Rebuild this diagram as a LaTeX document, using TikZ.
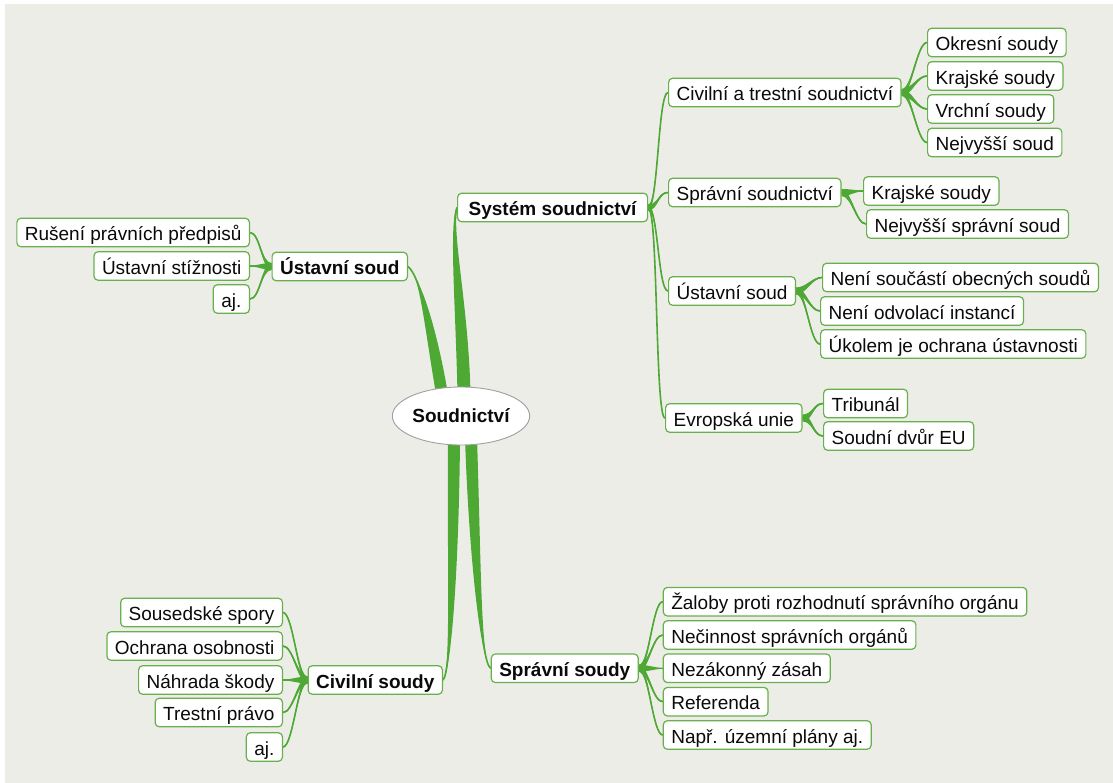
\documentclass[tikz,border=0pt]{standalone}
\usepackage{fontspec}
\setmainfont{Liberation Sans}
\usetikzlibrary{calc,shapes.geometric}

\definecolor{bggray}{RGB}{237,237,232}
\definecolor{boxgreen}{RGB}{104,176,78}
\definecolor{linkgreen}{RGB}{78,168,52}
\definecolor{inkcol}{RGB}{10,10,10}

\pgfdeclarelayer{bg}
\pgfsetlayers{bg,main}

\tikzset{
  leaf/.style={draw=boxgreen, line width=1.2pt, fill=white, rounded corners=4pt,
    inner xsep=8pt, inner ysep=0pt, text height=22.5pt, text depth=6pt,
    text=inkcol, font=\fontsize{19}{22}\selectfont},
  hub/.style={leaf, font=\fontsize{19}{22}\selectfont\bfseries},
  rootnode/.style={ellipse, draw=gray!75, line width=0.9pt, fill=white,
    minimum width=120pt, minimum height=58pt, inner sep=0pt,
    text=inkcol, font=\fontsize{19}{22}\selectfont\bfseries},
  branch/.style={fill=linkgreen},
  branchline/.style={draw=linkgreen, line width=1.6pt}
}

% tapered connector: #1 start, #2 control offset from start, #3 end,
% #4 control offset from end, #5 half-width at start, #6 half-width at end
\newcommand\taper[6]{%
  \begin{pgfonlayer}{bg}
  \fill[branch] ($(#1)+(#5)$) .. controls ($(#1)+(#2)+(#5)$) and ($(#3)+(#4)+(#6)$) .. ($(#3)+(#6)$)
     -- ($(#3)-(#6)$) .. controls ($(#3)+(#4)-(#6)$) and ($(#1)+(#2)-(#5)$) .. ($(#1)-(#5)$) -- cycle;
  \draw[branchline] (#1) .. controls ($(#1)+(#2)$) and ($(#3)+(#4)$) .. (#3);
  \end{pgfonlayer}}
% connector from a parent's right side to a child's left side
\newcommand\rlink[3]{\taper{#1.east}{10,0}{#2.west}{-10,0}{0,#3}{0,0.6}}
% connector from a parent's left side to a child's right side
\newcommand\llink[3]{\taper{#1.west}{-10,0}{#2.east}{10,0}{0,#3}{0,0.6}}

\begin{document}
\begin{tikzpicture}[x=1pt,y=-1pt]
\useasboundingbox (0,0) rectangle (1113,783);
\begin{pgfonlayer}{bg}
  \fill[white] (0,0) rectangle (1113,783);
  \fill[bggray] (5,4) rectangle (1113,783);
\end{pgfonlayer}

% centre
\node[rootnode] (root) at (461,416) {Soudnictví};

% main branches
\node[hub, anchor=west, minimum width=190pt] (sys) at (457,207.5) {Systém soudnictví};
\node[hub, anchor=east] (ust) at (408,266.5) {Ústavní soud};
\node[hub, anchor=east] (civ) at (443,680) {Civilní soudy};
\node[hub, anchor=west] (spr) at (490.7,668.3) {Správní soudy};

% court system
\node[leaf, anchor=west] (cts) at (668,92.5) {Civilní a trestní soudnictví};
\node[leaf, anchor=west] (sps) at (668,192.5) {Správní soudnictví};
\node[leaf, anchor=west] (us2) at (668,291) {Ústavní soud};
\node[leaf, anchor=west] (eu) at (665,418) {Evropská unie};

\node[leaf, anchor=west] (ok) at (927,42.5) {Okresní soudy};
\node[leaf, anchor=west] (kr) at (927,76) {Krajské soudy};
\node[leaf, anchor=west] (vr) at (927,109) {Vrchní soudy};
\node[leaf, anchor=west] (nsd) at (927,142.5) {Nejvyšší soud};

\node[leaf, anchor=west] (kr2) at (863,191) {Krajské soudy\hspace{4pt}};
\node[leaf, anchor=west] (nss) at (866,224) {Nejvyšší správní soud};

\node[leaf, anchor=west] (ua) at (822,277.5) {Není součástí obecných soudů};
\node[leaf, anchor=west] (ub) at (820,311) {Není odvolací instancí};
\node[leaf, anchor=west] (uc) at (820,344) {Úkolem je ochrana ústavnosti};

\node[leaf, anchor=west] (tri) at (823,403.5) {Tribunál};
\node[leaf, anchor=west] (sdv) at (823,436) {Soudní dvůr EU};

% constitutional court
\node[leaf, anchor=east] (la) at (250,232.5) {Rušení právních předpisů};
\node[leaf, anchor=east] (lb) at (250,266) {Ústavní stížnosti};
\node[leaf, anchor=east] (lc) at (250,299) {aj.};

% civil courts
\node[leaf, anchor=east] (ca) at (283,612.5) {Sousedské spory};
\node[leaf, anchor=east] (cb) at (283,646) {Ochrana osobnosti};
\node[leaf, anchor=east] (cc) at (283,680) {Náhrada škody};
\node[leaf, anchor=east] (cd) at (283,712.5) {Trestní právo};
\node[leaf, anchor=east] (ce) at (283,747) {aj.};

% administrative courts
\node[leaf, anchor=west] (sa) at (662.7,601.7) {Žaloby proti rozhodnutí správního orgánu};
\node[leaf, anchor=west] (sb) at (662.7,635) {Nečinnost správních orgánů};
\node[leaf, anchor=west] (sc) at (662.7,668.3) {Nezákonný zásah};
\node[leaf, anchor=west] (sd) at (662.7,701.7) {Referenda};
\node[leaf, anchor=west] (se) at (662.7,735) {Např. územní plány aj.};

% branch roots on the ellipse
\coordinate (rsys) at ($(root.center)+(3,-22)$);
\coordinate (rust) at ($(root.center)+(-19,-22)$);
\coordinate (rciv) at ($(root.center)+(-7,22)$);
\coordinate (rspr) at ($(root.center)+(10,22)$);

\taper{rsys}{-2,-90}{sys.west}{-7,22}{6.5,0}{0.8,0}
\taper{rust}{-12,-70}{ust.east}{12,10}{6,0}{0,0.8}
\taper{rciv}{-1,130}{civ.east}{8,-8}{6,0}{0,0.8}
\taper{rspr}{4,120}{spr.west}{-10,-6}{6,0}{0,0.8}

% second level
\rlink{sys}{cts}{3}
\rlink{sys}{sps}{3}
\rlink{sys}{us2}{3}
\rlink{sys}{eu}{3}

% leaves
\rlink{cts}{ok}{3.5}
\rlink{cts}{kr}{3.5}
\rlink{cts}{vr}{3.5}
\rlink{cts}{nsd}{3.5}
\rlink{sps}{kr2}{3.5}
\rlink{sps}{nss}{3.5}
\rlink{us2}{ua}{3.5}
\rlink{us2}{ub}{3.5}
\rlink{us2}{uc}{3.5}
\rlink{eu}{tri}{3.5}
\rlink{eu}{sdv}{3.5}

\llink{ust}{la}{3.5}
\llink{ust}{lb}{3.5}
\llink{ust}{lc}{3.5}

\llink{civ}{ca}{3.5}
\llink{civ}{cb}{3.5}
\llink{civ}{cc}{3.5}
\llink{civ}{cd}{3.5}
\llink{civ}{ce}{3.5}

\rlink{spr}{sa}{3.5}
\rlink{spr}{sb}{3.5}
\rlink{spr}{sc}{3.5}
\rlink{spr}{sd}{3.5}
\rlink{spr}{se}{3.5}
\end{tikzpicture}
\end{document}
